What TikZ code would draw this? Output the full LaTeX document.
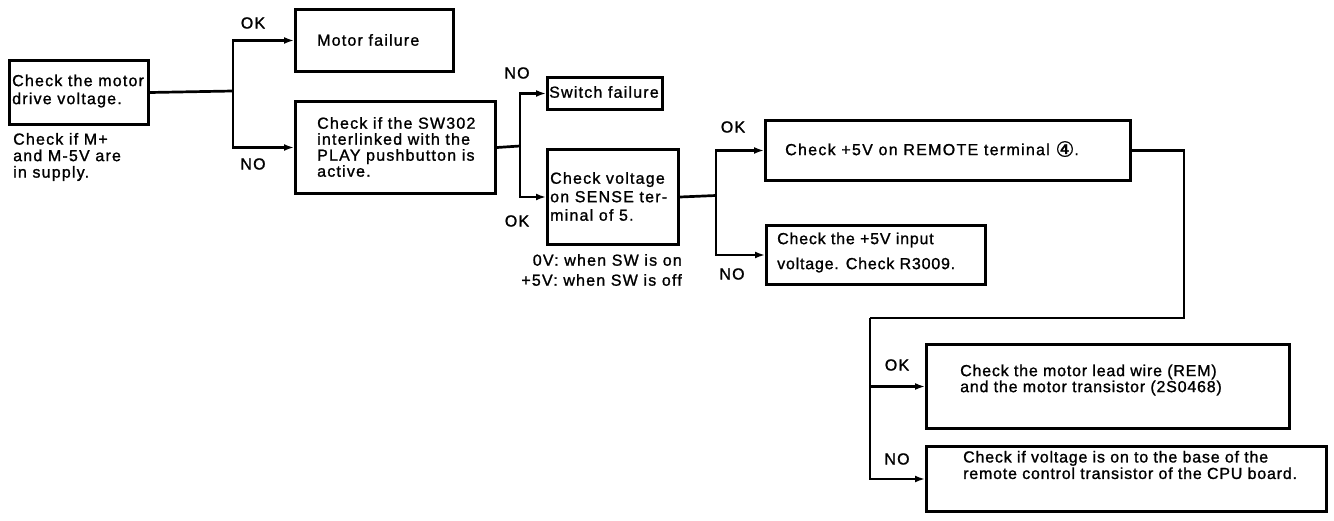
\documentclass[tikz,border=0pt]{standalone}
\usepackage{fontspec}
\setmainfont{Liberation Sans}
\newfontfamily\spacedfont{Liberation Sans}[LetterSpace=7.5,FakeBold=1.2]
\newfontfamily\midfont{Liberation Sans}[LetterSpace=5,FakeBold=1.2]
\newfontfamily\remfont{Liberation Sans}[LetterSpace=8,FakeBold=1.2]
\newfontfamily\dvfont{DejaVu Sans}[FakeBold=1.2]
\usetikzlibrary{arrows.meta}
\begin{document}
\begin{tikzpicture}[x=1pt,y=-1pt,
  box/.style={draw, line width=3pt, inner sep=0pt, anchor=north west},
  con/.style={line width=2.7pt},
  arr/.style={line width=2.7pt, -{Latex[length=10pt,width=7pt]}},
  txt/.style={inner sep=0pt, anchor=west, align=left, font=\spacedfont\fontsize{16}{16}\selectfont},
  ptxt/.style={inner sep=0pt, anchor=west, align=left, font=\midfont\fontsize{16}{16}\selectfont},
  lab/.style={inner sep=0pt, font=\spacedfont\fontsize{16}{16}\selectfont}
]
\path[use as bounding box] (0,0) rectangle (1334,521);

% boxes
\node[box, minimum width=139pt, minimum height=64pt] (A)   at (8,59) {};
\node[box, minimum width=158pt, minimum height=62pt] (MF)  at (294,8) {};
\node[box, minimum width=200pt, minimum height=92pt] (SW)  at (294,100) {};
\node[box, minimum width=115pt, minimum height=32pt] (SF)  at (546,76) {};
\node[box, minimum width=131pt, minimum height=95pt] (SE)  at (546,148) {};
\node[box, minimum width=365pt, minimum height=60pt] (RE)  at (764,119) {};
\node[box, minimum width=219pt, minimum height=59pt] (IN)  at (765,224) {};
\node[box, minimum width=363pt, minimum height=84pt] (ML)  at (925,343) {};
\node[box, minimum width=400pt, minimum height=65pt] (CPU) at (925,445) {};

% texts
\node[txt, font=\spacedfont\fontsize{16}{18}\selectfont] (At) at (12,91) {Check the motor\\drive voltage.};
\node[txt, font=\spacedfont\fontsize{16}{16.5}\selectfont] (An) at (13,157) {Check if M+\\and M-5V are\\in supply.};
\node[txt] (MFt) at (317,40) {Motor failure};
\node[txt] (SWt) at (317,147) {Check if the SW302\\interlinked with the\\PLAY pushbutton is\\active.};
\node[txt] (SFt) at (549,92) {Switch failure};
\node[txt, font=\spacedfont\fontsize{16}{18.5}\selectfont] (SEt) at (550,196.5) {Check voltage\\on SENSE ter-\\minal of 5.};
\node[txt, anchor=east, align=right, font=\spacedfont\fontsize{16}{20}\selectfont] (SEn) at (682,270) {0V: when SW is on\\+5V: when SW is off};
\node[ptxt, font=\remfont\fontsize{16}{16}\selectfont] (REt) at (785,149) {Check +5V on REMOTE terminal {\dvfont\fontsize{21}{21}\selectfont\raisebox{-1.5pt}{④}}.};
\node[ptxt, font=\midfont\fontsize{16}{25}\selectfont] (INt) at (777,252.5) {Check the +5V input\\voltage. Check R3009.};
\node[ptxt] (MLt) at (960,380) {Check the motor lead wire (REM)\\and the motor transistor (2S0468)};
\node[ptxt, font=\midfont\fontsize{16}{16.5}\selectfont] (CPUt) at (963,465) {Check if voltage is on to the base of the\\remote control transistor of the CPU board.};

% branch labels
\node[lab] (ok1) at (253,23) {OK};
\node[lab] (no1) at (253,164) {NO};
\node[lab] (no2) at (517,73) {NO};
\node[lab] (ok2) at (517,221) {OK};
\node[lab] (ok3) at (733,127) {OK};
\node[lab] (no3) at (732,274) {NO};
\node[lab] (ok4) at (897,365) {OK};
\node[lab] (no4) at (897,459) {NO};

% junctions
\coordinate (j1) at (233,91);
\coordinate (j2) at (520,146);
\coordinate (j3) at (716,195.5);
\coordinate (k1) at (1184,318);
\coordinate (k2) at (870,318);

% connectors
\draw[con] (A.east) -- (j1);
\draw[arr] (j1) |- (MF.west);
\draw[arr] (j1) |- (SW.west);
\draw[con] (SW.east) -- (j2);
\draw[arr] (j2) |- (SF.west);
\draw[arr] (j2) |- (SE.west);
\draw[con] (SE.east) -- (j3);
\draw[arr] (j3) |- (RE.west);
\draw[arr] (j3) |- (IN.west);
\draw[con] (RE.east) -| (k1) -- (k2);
\draw[arr] (k2) |- (ML.west);
\draw[arr] (k2) |- (CPU.west);
\end{tikzpicture}
\end{document}
